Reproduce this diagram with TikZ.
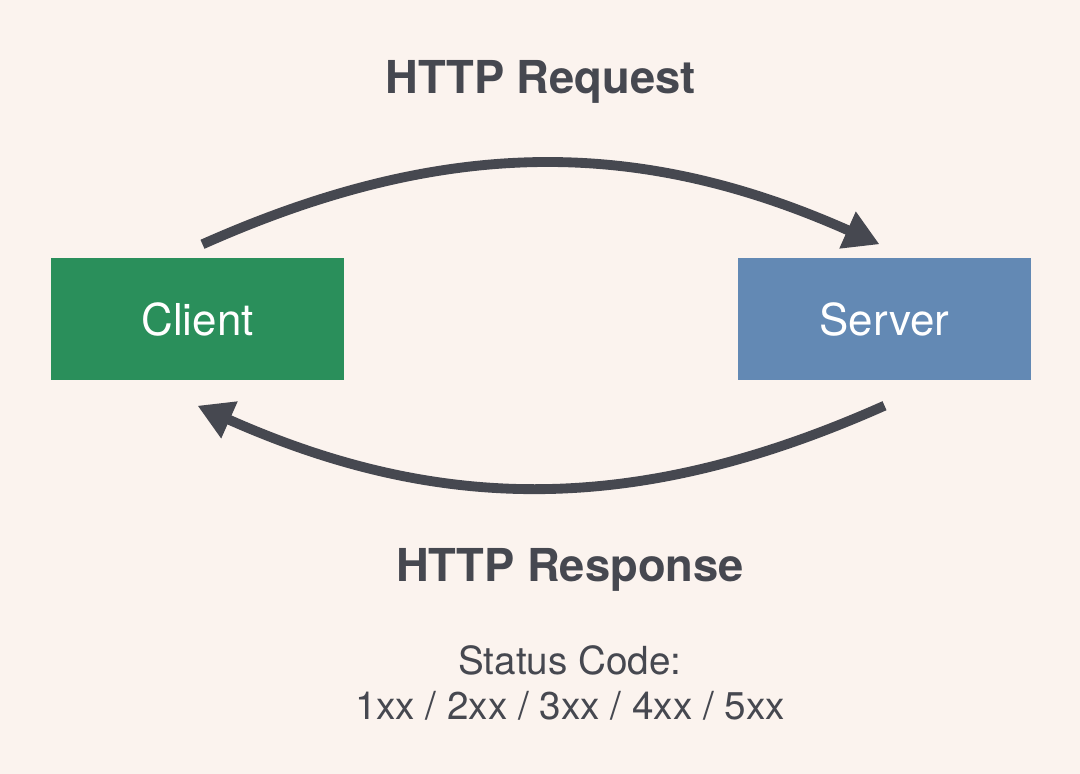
\documentclass[tikz,border=0pt]{standalone}
\usepackage{fontspec}
\setmainfont{TeX Gyre Heros}
\usetikzlibrary{arrows.meta,positioning}
\definecolor{paper}{HTML}{FBF3EE}
\definecolor{ink}{HTML}{464850}
\definecolor{clientgreen}{HTML}{2A8F5B}
\definecolor{serverblue}{HTML}{6389B4}

\begin{document}
\begin{tikzpicture}
  % Background
  \fill[paper] (0,0) rectangle (10.8,7.74);
  \useasboundingbox (0,0) rectangle (10.8,7.74);

  \tikzset{
    endpoint/.style={minimum width=2.93cm,minimum height=1.22cm,inner sep=0pt,
      text=white,font=\fontsize{12.5}{14}\selectfont},
    flow/.style={ink,line width=2.8pt,-{Triangle[length=3.5mm,width=3.8mm]}},
    title/.style={ink,font=\fontsize{12.9}{15}\selectfont\bfseries}
  }

  % Client and server
  \node[endpoint,fill=clientgreen] (client) at (1.975,4.55) {Client};
  \node[endpoint,fill=serverblue] (server) at (8.845,4.55) {Server};

  % Request
  \node[title] (request) at (5.41,6.92) {HTTP Request};
  \draw[flow] ([xshift=0.5mm,yshift=1.3mm]client.north) to[bend left=24] ([xshift=-0.5mm,yshift=1.3mm]server.north);

  % Response
  \draw[flow] ([yshift=-2.5mm]server.south) to[bend left=24] ([yshift=-2.5mm]client.south);
  \node[title] (response) at (5.70,2.04) {HTTP Response};
  \node[ink,align=center,font=\fontsize{11}{13}\selectfont] (codes) at (5.70,0.91)
    {Status Code:\\1xx / 2xx / 3xx / 4xx / 5xx};
\end{tikzpicture}
\end{document}
